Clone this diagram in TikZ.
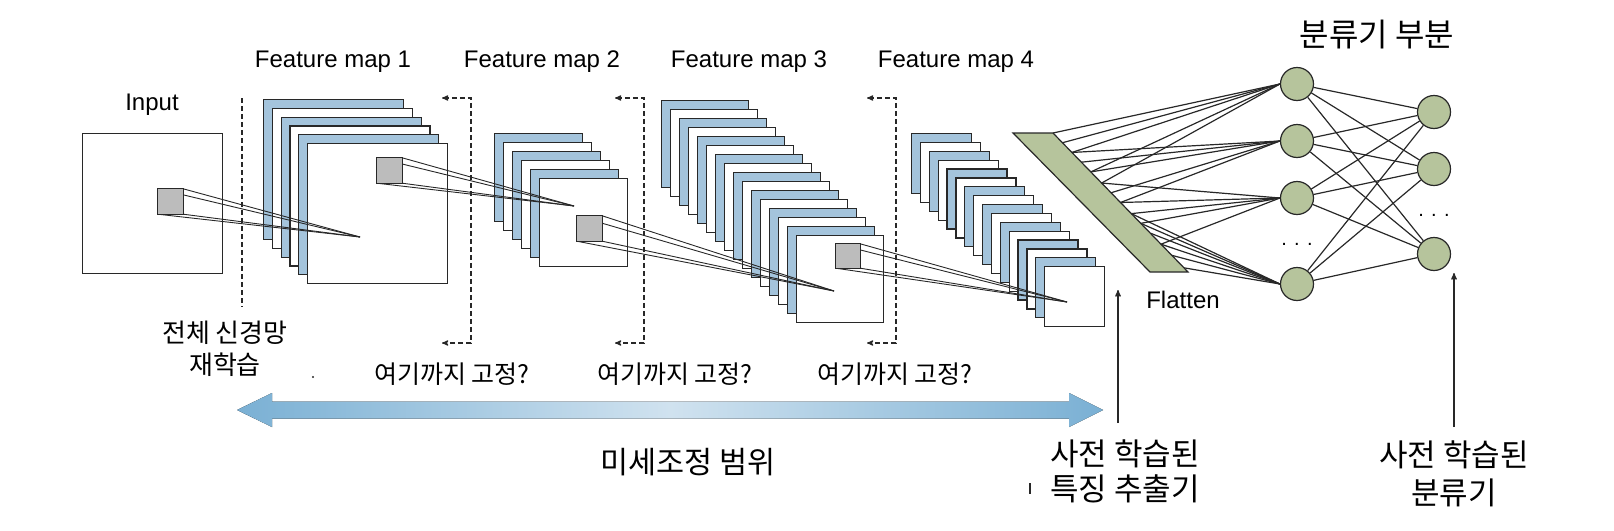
\documentclass[tikz,border=0pt]{standalone}
\usepackage{fontspec}
\setmainfont{Liberation Sans}
\newfontfamily\kr{Noto Sans CJK KR}
\usetikzlibrary{arrows,calc}

\definecolor{mapblue}{RGB}{164,196,220}
\definecolor{netgreen}{RGB}{182,196,156}
\definecolor{patchgray}{RGB}{188,188,188}
\definecolor{bandblue}{RGB}{122,176,212}
\definecolor{bandlight}{RGB}{208,226,239}
\definecolor{ink}{RGB}{40,40,40}

\begin{document}
\begin{tikzpicture}[x=1pt,y=-1pt,>=stealth',line join=miter,
		sheet/.style={draw=ink,line width=1.2pt,inner sep=0pt,minimum size=#1,anchor=north west},
		patch/.style={inner sep=0pt,minimum size=25pt},
		ray/.style={draw=ink,line width=0.9pt},
		bracket/.style={draw=ink,line width=1.2pt,dash pattern=on 5pt off 3pt},
		unit/.style={circle,draw=ink,line width=1.2pt,fill=netgreen,minimum size=33pt,inner sep=0pt},
		wire/.style={draw=ink,line width=1.2pt},
		en/.style={font=\fontsize{24}{28}\selectfont},
		ko/.style 2 args={font=\kr\fontsize{#1}{#2}\selectfont,align=center}]

		\useasboundingbox (0,0) rectangle (1614,530);

		% input image
		\node[sheet=140pt,fill=white] (in) at (82,133) {};
		\node[en] (inlbl) at (152,105) {Input};

		% feature map stacks
		\foreach \i in {0,...,5}{
			\ifodd\i \def\sheetcol{white}\else\def\sheetcol{mapblue}\fi
			\node[sheet=140pt,fill=\sheetcol] (fa\i) at (263+8.8*\i,99+8.8*\i) {};
		}
		\foreach \i in {0,...,5}{
			\ifodd\i \def\sheetcol{white}\else\def\sheetcol{mapblue}\fi
			\node[sheet=88pt,fill=\sheetcol] (fb\i) at (494+9*\i,133+9*\i) {};
		}
		\foreach \i in {0,...,15}{
			\ifodd\i \def\sheetcol{white}\else\def\sheetcol{mapblue}\fi
			\node[sheet=87pt,fill=\sheetcol] (fc\i) at (661+9*\i,100+9*\i) {};
		}
		\foreach \i in {0,...,15}{
			\ifodd\i \def\sheetcol{white}\else\def\sheetcol{mapblue}\fi
			\node[sheet=60pt,fill=\sheetcol] (fd\i) at (911+8.87*\i,133+8.87*\i) {};
		}
		\node[en] (fmlbl1) at (333,62) {Feature map 1};
		\node[en] (fmlbl2) at (542,62) {Feature map 2};
		\node[en] (fmlbl3) at (749,62) {Feature map 3};
		\node[en] (fmlbl4) at (956,62) {Feature map 4};

		% receptive fields
		\node[patch] (s0) at (170.5,201.5) {};
		\node[patch] (s1) at (389.5,170.5) {};
		\node[patch] (s2) at (589.5,228.5) {};
		\node[patch,minimum size=24pt] (s3) at (848,256) {};
		\coordinate (a1) at (360,237);
		\coordinate (a2) at (574,206);
		\coordinate (a3) at (834,291);
		\coordinate (a4) at (1067,302);
		\foreach \s/\a in {s0/a1,s1/a2,s2/a3,s3/a4}{
			\foreach \c in {north west,north east,south east,south west}
				\draw[ray] (\s.\c) -- (\a);
			\filldraw[draw=ink,line width=1.2pt,fill=patchgray] (\s.north west) rectangle (\s.south east);
		}

		% freeze points
		\coordinate (ct0) at (242,98);
		\coordinate (cb0) at (242,307);
		\draw[bracket] (ct0) -- (cb0);
		\foreach \x [count=\k] in {471,644,896}{
			\coordinate (ct\k) at (\x,98);
			\coordinate (cb\k) at (\x,343);
			\coordinate (at\k) at (\x-29,98);
			\coordinate (ab\k) at (\x-29,343);
			\draw[bracket,<->] (at\k) -- (ct\k) -- (cb\k) -- (ab\k);
		}
		\node[ko={26}{32}] (retrain) at (225,349) {전체 신경망\\재학습};
		\node[ko={25}{28}] (fix1) at (452,374) {여기까지 고정?};
		\node[ko={25}{28}] (fix2) at (675,374) {여기까지 고정?};
		\node[ko={25}{28}] (fix3) at (895,374) {여기까지 고정?};
		\fill[ink] (313,377) circle (1.2);

		% fine-tuning range
		\coordinate (rl) at (237,410);
		\coordinate (rr) at (1103,410);
		\fill[left color=bandblue,right color=bandblue,middle color=bandlight]
			(rl) -- ++(35,-17) -- ++(0,8.5) -- ($(rr)+(-34,-8.5)$) -- ++(0,-8.5)
			-- (rr) -- ++(-34,17) -- ++(0,-8.5) -- ($(rl)+(35,8.5)$) -- ++(0,8.5) -- cycle;
		\node[ko={30.5}{34}] (range) at (688,462) {미세조정 범위};

		% flatten
		\coordinate (ftl) at (1013,133);
		\coordinate (ftop) at (1053,133);
		\coordinate (fbot) at (1188,272);
		\coordinate (fbl) at (1150,272);
		\filldraw[draw=ink,line width=1.2pt,fill=netgreen] (ftl) -- (ftop) -- (fbot) -- (fbl) -- cycle;
		\node[en] (flat) at (1183,300) {Flatten};

		% classifier
		\node[unit] (n1) at (1297,84) {};
		\node[unit] (n2) at (1297,141) {};
		\node[unit] (n3) at (1297,198) {};
		\node[unit] (n4) at (1297,284) {};
		\node[unit] (m1) at (1434,112) {};
		\node[unit] (m2) at (1434,169) {};
		\node[unit] (m3) at (1434,254) {};
		\node[font=\fontsize{20}{20}\selectfont,anchor=base] (dots1) at (1297,245) {. . .};
		\node[font=\fontsize{20}{20}\selectfont,anchor=base] (dots2) at (1434,216) {. . .};
		\node[ko={32}{40}] (clhead) at (1377,35) {분류기 부분};

		\foreach \t [count=\k] in {0,.07,.14,.21,.28,.36,.43,.5,.58,.65,.72,.8,.88,.97}
			\coordinate (e\k) at ($(ftop)!\t!(fbot)$);
		\foreach \a/\b in {1/1,2/1,3/1,5/1,6/1,3/2,4/2,5/2,7/2,8/2,6/3,8/3,9/3,10/3,12/3,
				9/4,10/4,11/4,12/4,13/4,14/4}
			\draw[wire] (e\a) -- (n\b.west);
		\foreach \a in {1,...,4}
			\foreach \b in {1,2,3}
				\draw[wire] (n\a) -- (m\b);

		% pretrained parts
		\coordinate (fxb) at (1118,423);
		\coordinate (fxt) at (1118,290);
		\draw[->,draw=ink,line width=1.3pt] (fxb) -- (fxt);
		\node[ko={31}{35}] (fxlbl) at (1125,471) {사전 학습된\\특징 추출기};
		\draw[ink,line width=1.2pt] (1030,483) -- (1030,494);
		\coordinate (clb) at (1454,427);
		\coordinate (clt) at (1454,273);
		\draw[->,draw=ink,line width=1.3pt] (clb) -- (clt);
		\node[ko={31}{38}] (cllbl) at (1454,474) {사전 학습된\\분류기};
\end{tikzpicture}
\end{document}
